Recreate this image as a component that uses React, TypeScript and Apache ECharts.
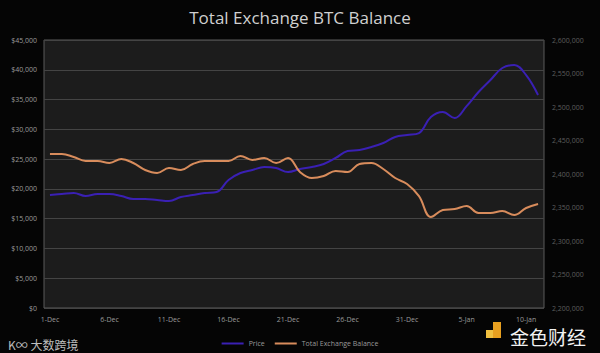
import React, { useEffect, useRef } from "react";
import * as echarts from "echarts";

const dates: string[] = [
  "1-Dec","2-Dec","3-Dec","4-Dec","5-Dec","6-Dec","7-Dec","8-Dec","9-Dec","10-Dec",
  "11-Dec","12-Dec","13-Dec","14-Dec","15-Dec","16-Dec","17-Dec","18-Dec","19-Dec","20-Dec",
  "21-Dec","22-Dec","23-Dec","24-Dec","25-Dec","26-Dec","27-Dec","28-Dec","29-Dec","30-Dec",
  "31-Dec","1-Jan","2-Jan","3-Jan","4-Jan","5-Jan","6-Jan","7-Jan","8-Jan","9-Jan",
  "10-Jan","11-Jan",
];

const price: number[] = [
  18970, 19140, 19310, 18800, 19140, 19140, 18800, 18300, 18300, 18130,
  17970, 18640, 18970, 19300, 19480, 21500, 22670, 23170, 23670, 23500,
  22830, 23340, 23670, 24180, 25190, 26360, 26530, 27030, 27700, 28710,
  29050, 29380, 32070, 32900, 31900, 33900, 36270, 38280, 40300, 40800,
  39100, 35760,
];

const balance: number[] = [
  2429800, 2429800, 2425400, 2419400, 2419400, 2416400, 2422400, 2416400, 2405900, 2401500,
  2409000, 2406000, 2415000, 2419400, 2419400, 2419400, 2426900, 2420900, 2423900, 2416400,
  2423900, 2403000, 2394000, 2397000, 2404500, 2403000, 2415000, 2416400, 2407500, 2394000,
  2385000, 2367000, 2335800, 2346300, 2347800, 2352200, 2341800, 2341800, 2344800, 2338800,
  2349300, 2355200,
];

const FONT = "'Open Sans', 'Noto Sans', sans-serif";

export default function App() {
  const ref = useRef<HTMLDivElement>(null);
  useEffect(() => {
    if (!ref.current) return;
    const chart = echarts.init(ref.current, undefined, { renderer: "svg" });
    chart.setOption({
      animation: false,
      backgroundColor: "#050505",
      title: {
        text: "Total Exchange BTC Balance",
        left: "center",
        top: 4,
        textStyle: { color: "#d0d0d0", fontSize: 17, fontWeight: "normal", fontFamily: FONT },
      },
      grid: {
        left: 44,
        right: 56,
        top: 40,
        bottom: 45,
        show: true,
        backgroundColor: "#1c1c1c",
        borderColor: "#5a5a5a",
        borderWidth: 1,
      },
      legend: {
        bottom: 1,
        left: "center",
        icon: "rect",
        itemWidth: 22,
        itemHeight: 2,
        itemGap: 10,
        textStyle: { color: "#9a9a9a", fontSize: 7, fontFamily: FONT },
        data: ["Price", "Total Exchange Balance"],
      },
      xAxis: {
        type: "category",
        data: dates,
        boundaryGap: true,
        axisLine: { show: false },
        axisTick: { show: false },
        axisLabel: { interval: 4, color: "#9a9a9a", fontSize: 7, fontFamily: FONT, margin: 8 },
        splitLine: { show: false },
      },
      yAxis: [
        {
          type: "value",
          min: 0,
          max: 45000,
          interval: 5000,
          axisLine: { show: false },
          axisTick: { show: false },
          axisLabel: {
            color: "#9a9a9a",
            fontSize: 7,
            fontFamily: FONT,
            margin: 7,
            formatter: (v: number) => "$" + v.toLocaleString("en-US"),
          },
          splitLine: { show: true, lineStyle: { color: "#444444", width: 1 } },
        },
        {
          type: "value",
          min: 2200000,
          max: 2600000,
          interval: 50000,
          axisLine: { show: false },
          axisTick: { show: false },
          axisLabel: {
            color: "#5e5e5e",
            fontSize: 7,
            fontFamily: FONT,
            margin: 8,
            formatter: (v: number) => v.toLocaleString("en-US"),
          },
          splitLine: { show: false },
        },
      ],
      series: [
        {
          name: "Price",
          type: "line",
          data: price,
          yAxisIndex: 0,
          smooth: 0.4,
          showSymbol: false,
          lineStyle: { color: "#3a20b4", width: 2 },
          itemStyle: { color: "#3a20b4" },
        },
        {
          name: "Total Exchange Balance",
          type: "line",
          data: balance,
          yAxisIndex: 1,
          smooth: 0.4,
          showSymbol: false,
          lineStyle: { color: "#d88c5c", width: 2 },
          itemStyle: { color: "#d88c5c" },
        },
      ],
      graphic: [
        {
          type: "text",
          left: 8,
          top: 338,
          style: { text: "K∞ 大数跨境", fill: "#bdbdbd", fontSize: 12, fontFamily: "'Noto Sans CJK SC', sans-serif" },
        },
        {
          type: "rect",
          shape: { x: 493, y: 322, width: 8, height: 16 },
          style: { fill: "#e8a020" },
        },
        {
          type: "rect",
          shape: { x: 486, y: 330, width: 7, height: 8 },
          style: { fill: "#f0c040" },
        },
        {
          type: "text",
          left: 510,
          top: 327,
          style: { text: "金色财经", fill: "#f2f2f2", fontSize: 19, fontFamily: "'Noto Sans CJK SC', sans-serif" },
        },
      ],
    });
    return () => chart.dispose();
  }, []);
  return (
    <div
      ref={ref}
      style={{ position: "fixed", left: 0, top: 0, width: 600, height: 353 }}
    />
  );
}
